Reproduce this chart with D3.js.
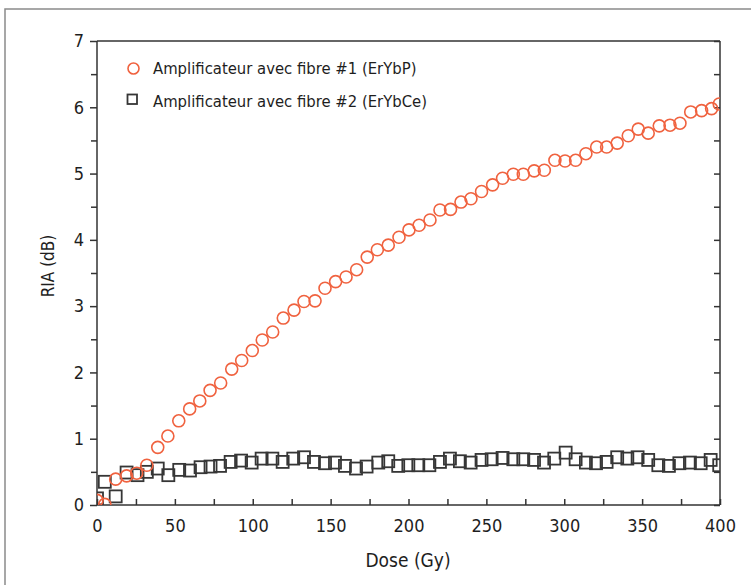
<!DOCTYPE html>
<html>
<head>
<meta charset="utf-8">
<script src="https://cdn.jsdelivr.net/npm/d3@7"></script>
<style>
  body { margin: 0; background: #fff; }
  svg { display: block; font-family: "DejaVu Sans Condensed", "DejaVu Sans", sans-serif; }
  .axis path, .axis line { stroke: #333; stroke-width: 1.5; }
  .axis text { font-size: 18px; fill: #1e1e1e; font-family: "DejaVu Sans Condensed", "DejaVu Sans", sans-serif; }
</style>
</head>
<body>
<svg width="751" height="585"></svg>
<script>
// fibre #1 (ErYbP), circles
const doseP = [0, 5, 12, 19, 25.5, 32, 39, 45.5, 52.5, 59.5, 66, 72.6, 79.4, 86.5, 92.9, 99.7,
  106.1, 112.8, 119.6, 126.5, 132.9, 140, 146.4, 153.2, 159.9, 166.7, 173.5, 180, 187, 193.9,
  200.3, 206.8, 213.8, 220.2, 227, 233.7, 240.1, 246.9, 254, 260.4, 267.3, 273.7, 280.7, 287.2,
  294, 300.5, 307.3, 313.9, 320.8, 327.2, 334, 341.1, 347.5, 353.9, 361, 367.9, 374.3, 381.2,
  388.2, 394.6, 399.5];
const riaP = [0.07, 0.01, 0.39, 0.44, 0.48, 0.6, 0.87, 1.04, 1.27, 1.45, 1.57, 1.73, 1.84, 2.05, 2.18, 2.33,
  2.49, 2.61, 2.82, 2.94, 3.07, 3.08, 3.27, 3.37, 3.44, 3.55, 3.74, 3.85, 3.92, 4.04,
  4.15, 4.22, 4.30, 4.45, 4.46, 4.57, 4.62, 4.73, 4.83, 4.93, 4.99, 4.99, 5.04, 5.05,
  5.20, 5.19, 5.20, 5.30, 5.40, 5.40, 5.46, 5.57, 5.67, 5.61, 5.72, 5.73, 5.76, 5.93,
  5.95, 5.98, 6.05];

// fibre #2 (ErYbCe), squares
const doseCe = [0, 5, 12, 19, 26, 32, 39, 45.8, 52.8, 59.7, 66.5, 72.9, 79, 85.8, 92.5, 99.3,
  105.7, 112.6, 119.2, 126, 132.9, 139.3, 146.4, 152.8, 159.2, 166.3, 173.1, 180.6, 187, 193.4,
  199.9, 206.3, 213.4, 220.2, 226.6, 233, 239.9, 246.9, 253.4, 260.4, 267.3, 273.7, 280.6, 287,
  293.6, 300.9, 307.3, 313.9, 320.4, 327.2, 334, 340.5, 347.1, 353.9, 360.4, 367.2, 373.9, 380.7,
  387.6, 394, 399.5];
const riaCe = [0.1, 0.35, 0.13, 0.49, 0.45, 0.50, 0.55, 0.45, 0.53, 0.52, 0.57, 0.58, 0.59, 0.65, 0.67, 0.64,
  0.70, 0.70, 0.65, 0.70, 0.72, 0.65, 0.63, 0.64, 0.59, 0.55, 0.58, 0.64, 0.66, 0.59,
  0.60, 0.60, 0.60, 0.65, 0.70, 0.66, 0.64, 0.68, 0.69, 0.71, 0.69, 0.69, 0.68, 0.64,
  0.70, 0.79, 0.69, 0.64, 0.63, 0.65, 0.72, 0.70, 0.72, 0.68, 0.60, 0.59, 0.63, 0.64,
  0.63, 0.68, 0.60];

const seriesNames = ["Amplificateur avec fibre #1 (ErYbP)", "Amplificateur avec fibre #2 (ErYbCe)"];
const xTicks = [0, 50, 100, 150, 200, 250, 300, 350, 400];
const yTicks = [0, 1, 2, 3, 4, 5, 6, 7];

const orange = "#f0623f";
const dark = "#363636";

const plot = { left: 97, top: 41, right: 720, bottom: 505 };
const svg = d3.select("svg");

// outer frame
svg.append("rect")
  .attr("x", 5).attr("y", 9)
  .attr("width", 800).attr("height", 700)
  .attr("fill", "none")
  .attr("stroke", "#8a8a8a")
  .attr("stroke-width", 1.5);

const x = d3.scaleLinear().domain([0, 400]).range([plot.left, plot.right]);
const y = d3.scaleLinear().domain([0, 7]).range([plot.bottom, plot.top]);

svg.append("clipPath").attr("id", "clip")
  .append("rect")
  .attr("x", plot.left).attr("y", plot.top - 10)
  .attr("width", plot.right - plot.left).attr("height", plot.bottom - plot.top + 10);

// top border
svg.append("line")
  .attr("x1", plot.left).attr("x2", plot.right)
  .attr("y1", plot.top).attr("y2", plot.top)
  .attr("stroke", "#333").attr("stroke-width", 1.5);

// right axis: inward ticks every 0.5
const rightAxis = svg.append("g").attr("class", "axis")
  .attr("transform", `translate(${plot.right},0)`)
  .call(d3.axisRight(y).tickValues(d3.range(0, 7.01, 0.5)).tickSize(-6).tickFormat(""));
rightAxis.select(".domain").attr("d", `M0,${plot.top}V${plot.bottom}`);

// left axis: outward major + minor ticks
svg.append("g").attr("class", "axis")
  .attr("transform", `translate(${plot.left},0)`)
  .call(d3.axisLeft(y).tickValues(d3.range(0.5, 7, 1)).tickSize(6).tickFormat(""))
  .select(".domain").remove();
const leftAxis = svg.append("g").attr("class", "axis")
  .attr("transform", `translate(${plot.left},0)`)
  .call(d3.axisLeft(y).tickValues(yTicks).tickSize(7).tickPadding(6).tickFormat(d3.format("d")));
leftAxis.select(".domain").attr("d", `M0,${plot.top}V${plot.bottom}`);

// bottom axis: inward minor ticks every 25
svg.append("g").attr("class", "axis")
  .attr("transform", `translate(0,${plot.bottom})`)
  .call(d3.axisBottom(x).tickValues(d3.range(25, 400, 50)).tickSize(-6).tickFormat(""))
  .select(".domain").remove();
const bottomAxis = svg.append("g").attr("class", "axis")
  .attr("transform", `translate(0,${plot.bottom})`)
  .call(d3.axisBottom(x).tickValues(xTicks).tickSize(-6).tickPadding(14).tickFormat(d3.format("d")));
bottomAxis.select(".domain").attr("d", `M${plot.left},0H${plot.right}`);

// axis titles
svg.append("text")
  .attr("x", 408).attr("y", 567)
  .attr("text-anchor", "middle")
  .attr("font-size", 19).attr("fill", "#1e1e1e")
  .text("Dose (Gy)");
svg.append("text")
  .attr("transform", `translate(54,266) rotate(-90)`)
  .attr("text-anchor", "middle")
  .attr("font-size", 17).attr("fill", "#1e1e1e")
  .text("RIA (dB)");

const marks = svg.append("g").attr("clip-path", "url(#clip)");

const side = 12;
marks.selectAll("rect.sq")
  .data(d3.zip(doseCe, riaCe))
  .join("rect")
  .attr("class", "sq")
  .attr("x", d => x(d[0]) - side / 2)
  .attr("y", d => y(d[1]) - side / 2)
  .attr("width", side).attr("height", side)
  .attr("fill", "none")
  .attr("stroke", dark)
  .attr("stroke-width", 1.8);

marks.selectAll("circle")
  .data(d3.zip(doseP, riaP))
  .join("circle")
  .attr("cx", d => x(d[0]))
  .attr("cy", d => y(d[1]))
  .attr("r", 6)
  .attr("fill", "none")
  .attr("stroke", orange)
  .attr("stroke-width", 1.6);

// legend
const legend = svg.append("g");
legend.append("circle")
  .attr("cx", 133.5).attr("cy", 68.5).attr("r", 5.5)
  .attr("fill", "none").attr("stroke", orange).attr("stroke-width", 1.6);
legend.append("rect")
  .attr("x", 127.5).attr("y", 94.5).attr("width", 9.5).attr("height", 9.5)
  .attr("fill", "none").attr("stroke", dark).attr("stroke-width", 1.8);
legend.selectAll("text")
  .data(seriesNames)
  .join("text")
  .attr("x", 153)
  .attr("y", (d, i) => 74 + i * 33)
  .attr("font-size", 16.5)
  .attr("fill", "#1e1e1e")
  .text(d => d);
</script>
</body>
</html>
